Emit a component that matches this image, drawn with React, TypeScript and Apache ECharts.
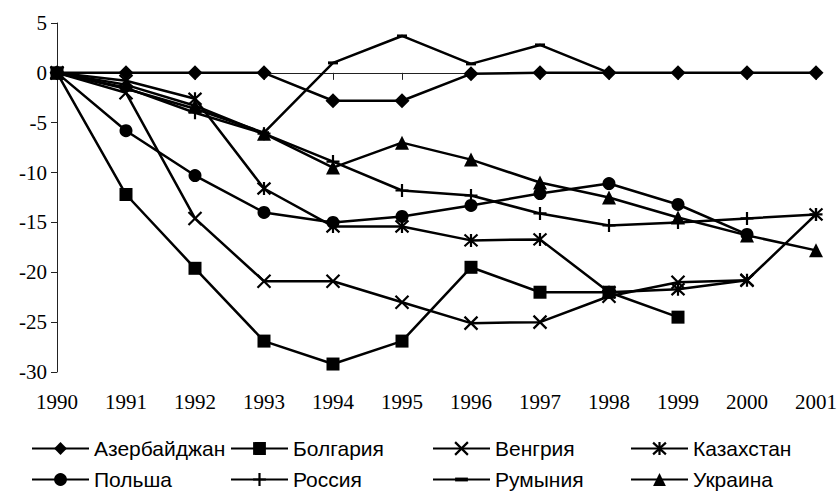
import React, { useEffect, useRef } from "react";
import * as echarts from "echarts";

const years = ["1990", "1991", "1992", "1993", "1994", "1995", "1996", "1997", "1998", "1999", "2000", "2001"];

const azerbaijan = [0, 0, 0, 0, -2.8, -2.8, -0.1, 0, 0, 0, 0, 0];
const bulgaria = [0, -12.2, -19.6, -26.9, -29.2, -26.9, -19.5, -22.0, -22.0, -24.5, null, null];
const hungary = [0, -2.0, -14.6, -20.9, -20.9, -23.0, -25.1, -25.0, -22.4, -21.0, -20.8, null];
const kazakhstan = [0, -0.8, -2.6, -11.6, -15.4, -15.4, -16.8, -16.7, -22.0, -21.7, -20.8, -14.2];
const poland = [0, -5.8, -10.3, -14.0, -15.0, -14.4, -13.3, -12.1, -11.1, -13.2, -16.2, null];
const russia = [0, -1.5, -4.0, -6.1, -8.9, -11.8, -12.3, -14.1, -15.3, -15.0, -14.6, -14.2];
const romania = [0, -1.6, -3.6, -6.0, 1.0, 3.7, 0.9, 2.8, 0, null, null, null];
const ukraine = [0, -1.2, -3.3, -6.1, -9.5, -7.0, -8.7, -11.0, -12.5, -14.5, -16.3, -17.8];

const yMin = -30;
const yMax = 5;
const yStep = 5;

const X_PATH = "path://M0,0L10,10M10,0L0,10";
const STAR_PATH = "path://M0,0L10,10M10,0L0,10M5,-0.5L5,10.5";
const PLUS_PATH = "path://M5,-1L5,11M0,5L10,5";
const DASH_PATH = "path://M0,0M0,3.5L10,3.5L10,6.5L0,6.5ZM10,10";

type S = { name: string; data: (number | null)[]; symbol: string; size: number; stroke: boolean; col: number; row: number };

const seriesDefs: S[] = [
  { name: "Азербайджан", data: azerbaijan, symbol: "diamond", size: 15, stroke: false, col: 0, row: 0 },
  { name: "Болгария", data: bulgaria, symbol: "rect", size: 13, stroke: false, col: 1, row: 0 },
  { name: "Венгрия", data: hungary, symbol: X_PATH, size: 13, stroke: true, col: 2, row: 0 },
  { name: "Казахстан", data: kazakhstan, symbol: STAR_PATH, size: 13, stroke: true, col: 3, row: 0 },
  { name: "Польша", data: poland, symbol: "circle", size: 13, stroke: false, col: 0, row: 1 },
  { name: "Россия", data: russia, symbol: PLUS_PATH, size: 13, stroke: true, col: 1, row: 1 },
  { name: "Румыния", data: romania, symbol: DASH_PATH, size: 10, stroke: false, col: 2, row: 1 },
  { name: "Украина", data: ukraine, symbol: "triangle", size: 14, stroke: false, col: 3, row: 1 },
];

const legendLefts = [31, 230, 432, 630];
const legendTops = [438, 469];

export default function App() {
  const ref = useRef<HTMLDivElement>(null);
  useEffect(() => {
    if (!ref.current) return;
    const chart = echarts.init(ref.current, null, { renderer: "svg" });
    const serif = "'Liberation Serif', 'Times New Roman', serif";
    const sans = "'Liberation Sans', Arial, sans-serif";
    chart.setOption({
      animation: false,
      backgroundColor: "#fff",
      grid: { left: 57, right: 21, top: 23, bottom: 125 },
      xAxis: {
        type: "category",
        data: years,
        boundaryGap: false,
        axisLine: { show: true, lineStyle: { color: "#222", width: 1 } },
        axisTick: { show: true, length: 7, lineStyle: { color: "#222" } },
        axisLabel: { color: "#000", fontFamily: serif, fontSize: 21, margin: 19, interval: 0 },
        splitLine: { show: false },
      },
      yAxis: {
        type: "value",
        min: yMin,
        max: yMax,
        interval: yStep,
        axisLine: { show: true, lineStyle: { color: "#222", width: 1 } },
        axisTick: { show: true, length: 6, lineStyle: { color: "#222" } },
        axisLabel: { color: "#000", fontFamily: serif, fontSize: 21, margin: 10 },
        splitLine: { show: false },
      },
      legend: seriesDefs.map((s) => ({
        data: [s.name],
        left: legendLefts[s.col],
        top: legendTops[s.row],
        padding: 0,
        itemWidth: 57,
        itemHeight: 16,
        selectedMode: false,
        textStyle: { color: "#000", fontFamily: sans, fontSize: 21, lineHeight: 21 },
        lineStyle: { color: "#000", width: 2 },
        itemStyle: s.stroke
          ? { color: "#000", borderColor: "#000", borderWidth: 2.2 }
          : { color: "#000", borderWidth: 0 },
      })),
      series: seriesDefs.map((s) => ({
        type: "line",
        name: s.name,
        data: s.data,
        symbol: s.symbol,
        symbolSize: s.size,
        showAllSymbol: true,
        lineStyle: { color: "#000", width: 2.5 },
        itemStyle: s.stroke
          ? { color: "#000", borderColor: "#000", borderWidth: 2.2 }
          : { color: "#000", borderWidth: 0 },
        emphasis: { disabled: true },
      })),
    });
    return () => chart.dispose();
  }, []);
  return <div ref={ref} style={{ position: "fixed", left: 0, top: 0, width: 840, height: 497 }} />;
}
